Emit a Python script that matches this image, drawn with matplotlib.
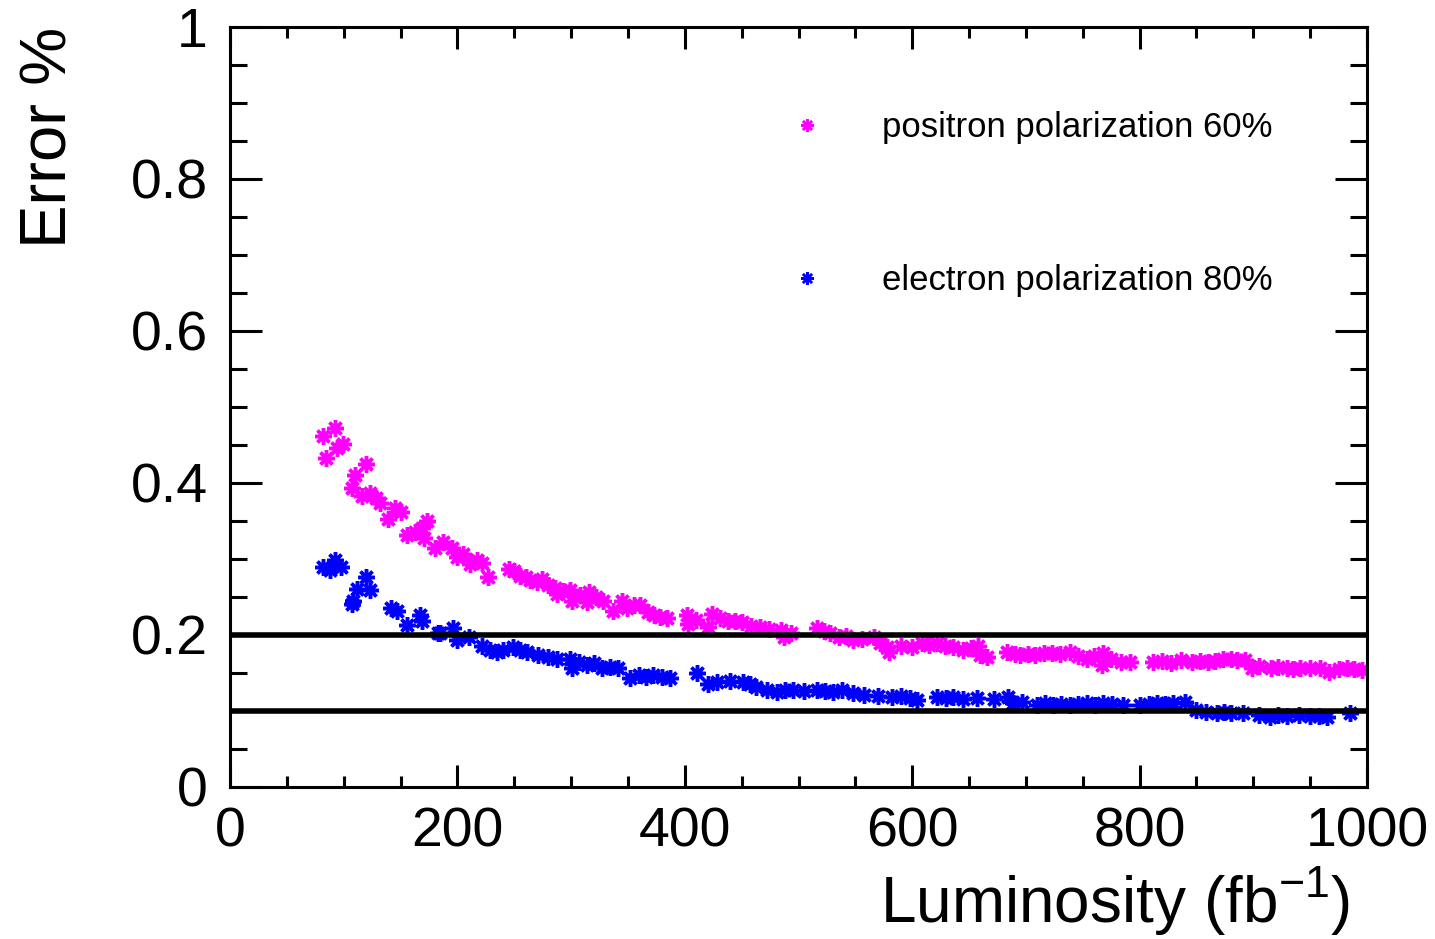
import matplotlib
matplotlib.use("Agg")
import matplotlib.pyplot as plt
from matplotlib.ticker import MultipleLocator, FuncFormatter
from matplotlib.lines import Line2D

plt.rcParams['font.family'] = ['Liberation Sans', 'DejaVu Sans']

# positron polarization 60% (magenta)
pos_x = [82, 84, 92, 94, 99, 107, 110, 116, 120, 123, 128, 132, 139, 145, 150, 156, 163,
         169, 171, 173, 180, 187, 195, 200, 205, 211, 217, 222, 227, 245, 250, 255, 260,
         264, 270, 274, 280, 286, 288, 293, 299, 301, 308, 314, 316, 322, 328, 337, 345,
         349, 355, 361, 368, 373, 378, 384, 402, 403, 410, 420, 424, 431, 438, 444, 450,
         458, 466, 474, 485, 487, 493, 516, 522, 528, 536, 542, 548, 556, 566, 572, 578,
         580, 590, 600, 609, 615, 622, 629, 636, 645, 652, 658, 660, 666, 683, 690, 695,
         702, 708, 716, 723, 730, 739, 746, 754, 760, 767, 768, 775, 784, 792, 812, 820,
         828, 836, 846, 853, 860, 866, 873, 880, 886, 893, 899, 905, 916, 922, 930, 935,
         941, 950, 959, 967, 975, 982, 989, 996]
pos_y = [0.462, 0.433, 0.472, 0.446, 0.451, 0.394, 0.410, 0.383, 0.425, 0.387, 0.380, 0.373,
         0.353, 0.367, 0.362, 0.331, 0.335, 0.341, 0.327, 0.350, 0.315, 0.322, 0.315, 0.302,
         0.307, 0.294, 0.298, 0.295, 0.276, 0.287, 0.284, 0.278, 0.276, 0.272, 0.270, 0.274,
         0.266, 0.262, 0.254, 0.258, 0.259, 0.245, 0.252, 0.243, 0.256, 0.250, 0.245, 0.232,
         0.245, 0.236, 0.240, 0.239, 0.230, 0.226, 0.223, 0.222, 0.226, 0.215, 0.220, 0.210,
         0.228, 0.222, 0.219, 0.218, 0.217, 0.212, 0.210, 0.208, 0.206, 0.197, 0.203, 0.209,
         0.205, 0.202, 0.197, 0.199, 0.193, 0.195, 0.197, 0.190, 0.184, 0.177, 0.186, 0.184,
         0.189, 0.187, 0.189, 0.186, 0.184, 0.180, 0.183, 0.186, 0.173, 0.171, 0.177, 0.175,
         0.173, 0.175, 0.173, 0.176, 0.176, 0.175, 0.177, 0.172, 0.169, 0.172, 0.160, 0.176,
         0.168, 0.164, 0.164, 0.164, 0.166, 0.163, 0.167, 0.164, 0.166, 0.164, 0.166, 0.169,
         0.168, 0.167, 0.167, 0.156, 0.159, 0.156, 0.158, 0.157, 0.155, 0.156, 0.156, 0.156,
         0.151, 0.155, 0.156, 0.155, 0.154]

# electron polarization 80% (blue)
ele_x = [82, 88, 92, 98, 107, 108, 112, 120, 123, 142, 147, 156, 167, 169, 183, 185, 196,
         200, 210, 222, 229, 235, 240, 249, 255, 261, 271, 280, 288, 299, 301, 307, 314,
         320, 327, 334, 341, 352, 360, 366, 372, 380, 387, 411, 420, 428, 440, 451, 457,
         463, 472, 481, 488, 495, 505, 516, 523, 530, 538, 548, 558, 570, 582, 590, 598,
         604, 622, 630, 636, 645, 657, 672, 684, 689, 697, 710, 717, 724, 731, 739, 746,
         754, 761, 768, 776, 785, 800, 808, 815, 822, 829, 840, 850, 858, 868, 874, 880,
         891, 905, 915, 922, 930, 940, 950, 958, 965, 985]
ele_y = [0.289, 0.285, 0.298, 0.289, 0.241, 0.245, 0.261, 0.276, 0.259, 0.236, 0.232, 0.213,
         0.226, 0.219, 0.203, 0.203, 0.209, 0.193, 0.197, 0.186, 0.180, 0.177, 0.180, 0.184,
         0.180, 0.177, 0.173, 0.171, 0.169, 0.169, 0.157, 0.165, 0.160, 0.163, 0.156, 0.158,
         0.156, 0.144, 0.147, 0.145, 0.147, 0.145, 0.144, 0.150, 0.136, 0.138, 0.140, 0.138,
         0.135, 0.131, 0.128, 0.125, 0.127, 0.127, 0.126, 0.127, 0.126, 0.125, 0.127, 0.123,
         0.121, 0.120, 0.118, 0.120, 0.117, 0.114, 0.118, 0.117, 0.118, 0.116, 0.117, 0.116,
         0.118, 0.110, 0.112, 0.108, 0.110, 0.108, 0.109, 0.108, 0.109, 0.110, 0.108, 0.110,
         0.109, 0.108, 0.108, 0.109, 0.110, 0.109, 0.110, 0.112, 0.101, 0.099, 0.097, 0.098,
         0.097, 0.097, 0.095, 0.092, 0.095, 0.094, 0.095, 0.094, 0.093, 0.092, 0.097]

ref_levels = [0.1, 0.2]

fig = plt.figure(figsize=(14.35, 9.39), dpi=100)
ax = fig.add_axes([0.1603, 0.1619, 0.7923, 0.8094])

mk = dict(marker=(8, 2, 0), markersize=12, markeredgewidth=2.5, linestyle='none')
ax.plot(pos_x, pos_y, color='#ff00ff', markeredgecolor='#ff00ff', **mk)
ax.plot(ele_x, ele_y, color='#0000ff', markeredgecolor='#0000ff', **mk)

for lv in ref_levels:
    ax.axhline(lv, color='black', linewidth=4, zorder=3)

ax.set_xlim(0, 1000)
ax.set_ylim(0, 1)

ax.xaxis.set_major_locator(MultipleLocator(200))
ax.xaxis.set_minor_locator(MultipleLocator(50))
ax.yaxis.set_major_locator(MultipleLocator(0.2))
ax.yaxis.set_minor_locator(MultipleLocator(0.05))
ax.yaxis.set_major_formatter(FuncFormatter(lambda v, p: '%g' % round(v, 2)))

ax.tick_params(which='both', direction='in', top=True, right=True, width=2.2,
               labelsize=40)
ax.tick_params(axis='x', which='major', length=16, pad=14)
ax.tick_params(axis='x', which='minor', length=8)
ax.tick_params(axis='y', which='major', length=23, pad=16)
ax.tick_params(axis='y', which='minor', length=12)
for s in ax.spines.values():
    s.set_linewidth(2.2)

ax.set_xlabel('Luminosity (fb$^{\\mathregular{-1}}$)', fontsize=46, ha='right')
ax.xaxis.set_label_coords(0.985, -0.101)
ax.set_ylabel('Error %', fontsize=47, ha='right')
ax.yaxis.set_label_coords(-0.132, 1.0)

handles = [Line2D([], [], color='#ff00ff', markeredgecolor='#ff00ff', marker=(8, 2, 0),
                  markersize=9, markeredgewidth=1.8, linestyle='none'),
           Line2D([], [], color='#0000ff', markeredgecolor='#0000ff', marker=(8, 2, 0),
                  markersize=9, markeredgewidth=1.8, linestyle='none')]
ax.legend(handles, ['positron polarization 60%', 'electron polarization 80%'],
          loc='center left', bbox_to_anchor=(0.4925, 0.767), frameon=False,
          fontsize=25, handlelength=1, handletextpad=1.65, labelspacing=3.45,
          borderpad=0, borderaxespad=0)

fig.savefig('out.png', dpi=100)
